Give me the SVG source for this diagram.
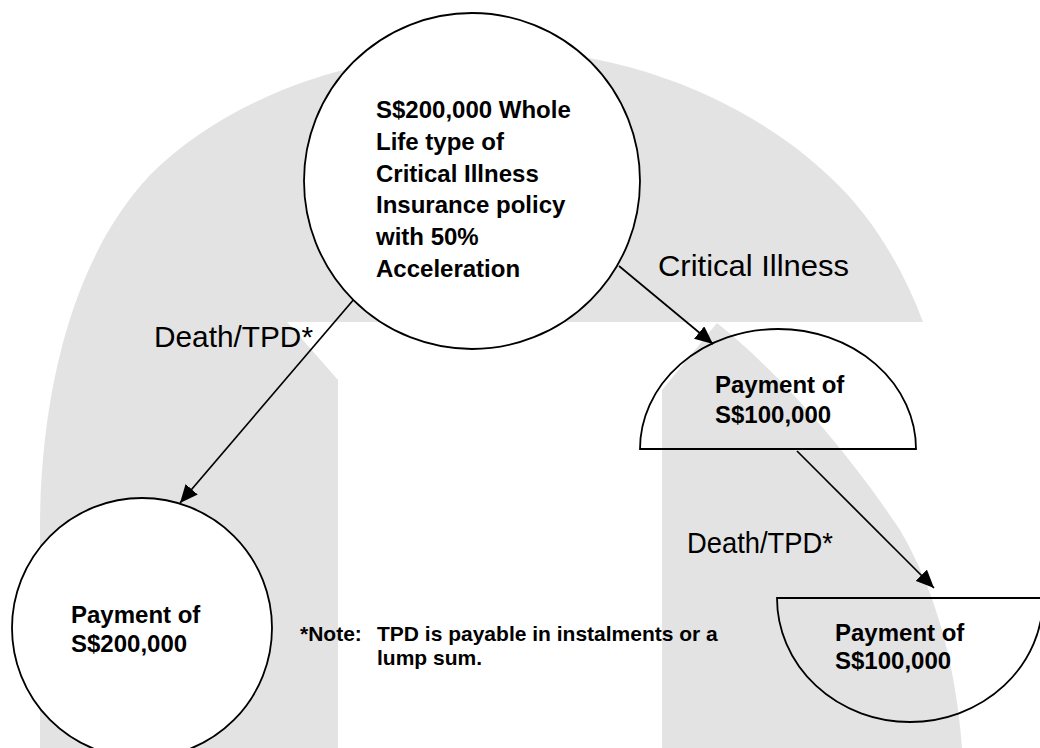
<svg xmlns="http://www.w3.org/2000/svg" width="1040" height="748" viewBox="0 0 1040 748">
  <defs>
    <marker id="arrow" viewBox="0 0 18 16" refX="18" refY="8" markerWidth="18" markerHeight="16" markerUnits="userSpaceOnUse" orient="auto">
      <path d="M0,0 L18,8 L0,16 Z" fill="#000"/>
    </marker>
    <style>
      .backdrop { fill: #e3e3e3; stroke: none; }
      .node-solid { fill: #fff; stroke: #000; stroke-width: 1.8; }
      .node-open { fill: none; stroke: #000; stroke-width: 1.8; }
      .edge { stroke: #000; stroke-width: 1.7; fill: none; marker-end: url(#arrow); }
      .bold { font-family: "Liberation Sans", Arial, sans-serif; font-weight: bold; font-size: 24px; fill: #000; }
      .label { font-family: "Liberation Sans", Arial, sans-serif; font-size: 30px; fill: #000; }
      .note { font-family: "Liberation Sans", Arial, sans-serif; font-weight: bold; font-size: 21px; fill: #000; }
    </style>
  </defs>

  <rect width="1040" height="748" fill="#fff"/>

  <!-- backdrop arch -->
  <g id="backdrop">
    <path class="backdrop" d="M40,748 L40,530 C40,400 70,260 150,175 C230,95 360,50 500,50 C640,50 760,110 830,177 C872,216 903,268 923,322 L287,322 L338,380 L338,748 Z"/>
    <path class="backdrop" d="M662,748 L662,390 L717,323 C770,365 840,440 900,530 C935,590 955,660 962,748 Z"/>
  </g>

  <!-- connectors -->
  <g id="connectors">
    <line class="edge" x1="355" y1="298" x2="180" y2="503"/>
    <line class="edge" x1="619" y1="266" x2="713" y2="344"/>
    <line class="edge" x1="797" y1="451" x2="934" y2="588"/>
    <text class="label" x="154" y="347" textLength="159" lengthAdjust="spacingAndGlyphs">Death/TPD*</text>
    <text class="label" x="658" y="276" textLength="191" lengthAdjust="spacingAndGlyphs">Critical Illness</text>
    <text class="label" x="687" y="553" font-size="27" textLength="146" lengthAdjust="spacingAndGlyphs">Death/TPD*</text>
  </g>

  <!-- policy node -->
  <g id="policy">
    <circle class="node-solid" cx="472" cy="181" r="168"/>
    <text class="bold" x="376" y="118">S$200,000 Whole</text>
    <text class="bold" x="376" y="150">Life type of</text>
    <text class="bold" x="376" y="182">Critical Illness</text>
    <text class="bold" x="376" y="213">Insurance policy</text>
    <text class="bold" x="376" y="245">with 50%</text>
    <text class="bold" x="376" y="277">Acceleration</text>
  </g>

  <!-- full payout on death / TPD -->
  <g id="payout-full">
    <circle class="node-solid" cx="142" cy="628" r="130"/>
    <text class="bold" x="71" y="623">Payment of</text>
    <text class="bold" x="71" y="652">S$200,000</text>
  </g>

  <!-- accelerated payout on critical illness -->
  <g id="payout-ci">
    <path class="node-open" d="M640,449 A138,120 0 0 1 916,449 Z"/>
    <text class="bold" x="715" y="393">Payment of</text>
    <text class="bold" x="715" y="423">S$100,000</text>
  </g>

  <!-- remaining payout on death / TPD -->
  <g id="payout-balance">
    <path class="node-open" d="M777,598 A133,124 0 0 0 1043,598 Z"/>
    <text class="bold" x="835" y="641">Payment of</text>
    <text class="bold" x="835" y="669">S$100,000</text>
  </g>

  <!-- footnote -->
  <g id="footnote">
    <text class="note" x="300" y="641">*Note:</text>
    <text class="note" x="377" y="641">TPD is payable in instalments or a</text>
    <text class="note" x="377" y="665">lump sum.</text>
  </g>
</svg>
